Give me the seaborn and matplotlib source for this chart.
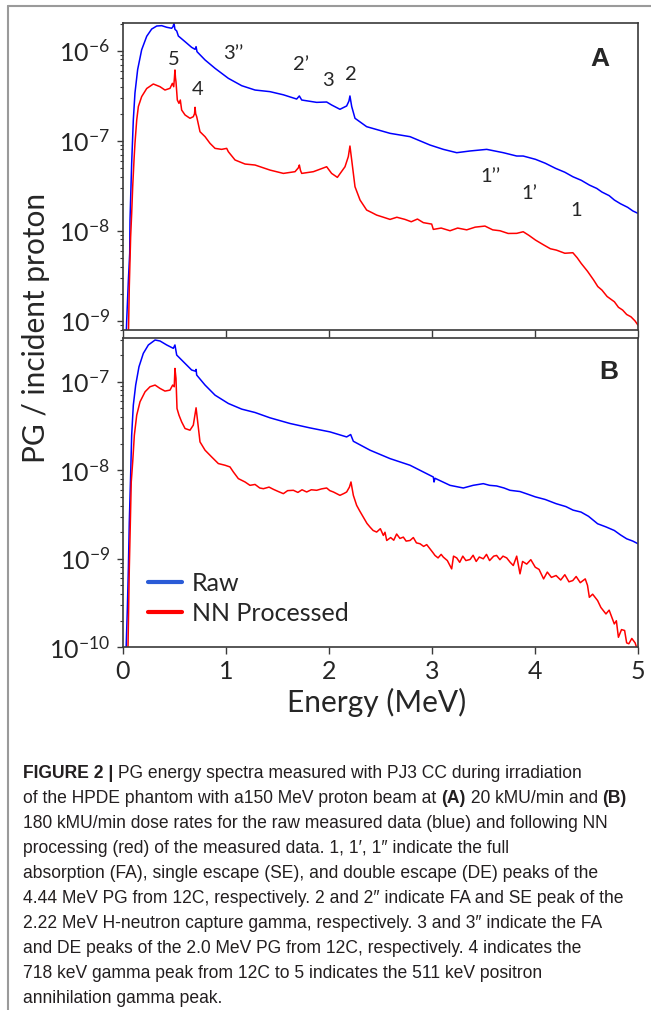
import numpy as np
import pandas as pd
import matplotlib
matplotlib.use("Agg")
import matplotlib.pyplot as plt
from matplotlib.lines import Line2D
import seaborn as sns

# values: energy (MeV) and log10(PG / incident proton)
# panel A, 20 kMU/min
a_raw_e = [0.030, 0.039, 0.055, 0.068, 0.071, 0.087, 0.103, 0.119, 0.145, 0.184, 0.233, 0.281, 0.330,
           0.378, 0.427, 0.475, 0.488, 0.498, 0.507, 0.524, 0.540, 0.605, 0.669, 0.702, 0.712, 0.721,
           0.799, 0.896, 1.025, 1.155, 1.284, 1.429, 1.559, 1.688, 1.714, 1.737, 1.882, 1.979, 2.027,
           2.108, 2.173, 2.195, 2.205, 2.222, 2.254, 2.367, 2.594, 2.788, 2.982, 3.111, 3.241, 3.370,
           3.532, 3.693, 3.823, 3.886, 4.006, 4.100, 4.200, 4.290, 4.368, 4.450, 4.529, 4.600, 4.650,
           4.720, 4.771, 4.830, 4.900, 4.950, 5.0]
a_raw_log = [-9.30, -8.99, -8.55, -8.25, -7.88, -7.25, -6.77, -6.47, -6.21, -5.99, -5.84, -5.76, -5.726,
             -5.722, -5.74, -5.751, -5.733, -5.696, -5.763, -5.781, -5.837, -5.90, -5.963, -5.985, -5.955, -6.011,
             -6.103, -6.196, -6.307, -6.389, -6.437, -6.455, -6.49, -6.537, -6.503, -6.548, -6.574, -6.57, -6.603,
             -6.651, -6.614, -6.56, -6.503, -6.62, -6.751, -6.844, -6.918, -6.955, -7.048, -7.096, -7.133, -7.114,
             -7.096, -7.133, -7.17, -7.17, -7.207, -7.25, -7.307, -7.35, -7.40, -7.44, -7.493, -7.53, -7.57,
             -7.61, -7.659, -7.70, -7.74, -7.78, -7.807]
a_nn_e = [0.055, 0.064, 0.077, 0.087, 0.097, 0.110, 0.119, 0.136, 0.152, 0.184, 0.233, 0.297, 0.362, 0.410,
          0.459, 0.482, 0.495, 0.502, 0.507, 0.512, 0.517, 0.530, 0.546, 0.559, 0.572, 0.605, 0.653, 0.685,
          0.697, 0.702, 0.708, 0.718, 0.750, 0.799, 0.847, 0.896, 0.960, 1.009, 1.025, 1.090, 1.187, 1.284,
          1.429, 1.559, 1.672, 1.705, 1.714, 1.725, 1.737, 1.850, 1.979, 2.027, 2.083, 2.157, 2.189, 2.205,
          2.222, 2.254, 2.303, 2.367, 2.420, 2.464, 2.530, 2.594, 2.660, 2.739, 2.800, 2.860, 2.917, 2.998,
          3.014, 3.090, 3.176, 3.250, 3.338, 3.420, 3.515, 3.590, 3.661, 3.740, 3.823, 3.886, 3.940, 4.006,
          4.087, 4.150, 4.208, 4.290, 4.368, 4.410, 4.449, 4.510, 4.570, 4.610, 4.650, 4.700, 4.771, 4.810,
          4.851, 4.890, 4.932, 4.970, 5.0]
a_nn_log = [-9.20, -8.62, -8.07, -7.81, -7.51, -7.21, -7.03, -6.77, -6.62, -6.51, -6.42, -6.37, -6.40, -6.437,
            -6.418, -6.363, -6.40, -6.30, -6.214, -6.30, -6.344, -6.548, -6.585, -6.548, -6.659, -6.714, -6.751,
            -6.733, -6.70, -6.629, -6.70, -6.733, -6.90, -6.955, -7.029, -7.085, -7.096, -7.085, -7.122, -7.214,
            -7.259, -7.27, -7.326, -7.363, -7.344, -7.30, -7.27, -7.33, -7.363, -7.344, -7.289, -7.363, -7.407,
            -7.289, -7.177, -7.059, -7.214, -7.511, -7.659, -7.77, -7.80, -7.826, -7.85, -7.874, -7.85, -7.874,
            -7.90, -7.87, -7.91, -7.926, -7.985, -7.97, -8.00, -7.97, -7.99, -7.96, -7.948, -7.99, -8.0,
            -8.03, -8.029, -8.011, -8.05, -8.104, -8.159, -8.20, -8.215, -8.25, -8.244, -8.30, -8.363, -8.45,
            -8.548, -8.62, -8.659, -8.73, -8.789, -8.85, -8.881, -8.93, -8.956, -9.00, -9.048]

# panel B, 180 kMU/min
b_raw_e = [0.031, 0.045, 0.055, 0.064, 0.077, 0.087, 0.103, 0.126, 0.158, 0.200, 0.249, 0.314, 0.362,
           0.427, 0.491, 0.507, 0.524, 0.572, 0.669, 0.705, 0.712, 0.718, 0.799, 0.896, 1.025, 1.155, 1.284,
           1.429, 1.623, 1.817, 2.011, 2.173, 2.212, 2.238, 2.400, 2.594, 2.788, 2.917, 3.014, 3.021, 3.030,
           3.176, 3.305, 3.400, 3.499, 3.560, 3.628, 3.700, 3.758, 3.855, 3.930, 4.003, 4.100, 4.205, 4.300,
           4.370, 4.447, 4.520, 4.608, 4.690, 4.770, 4.830, 4.890, 4.950, 5.0]
b_raw_log = [-10.10, -9.567, -9.114, -8.585, -8.057, -7.604, -7.264, -7.037, -6.83, -6.679, -6.584, -6.528,
             -6.539, -6.584, -6.622, -6.584, -6.698, -6.754, -6.867, -6.88, -6.86, -6.924, -7.037, -7.151, -7.245,
             -7.309, -7.347, -7.407, -7.471, -7.521, -7.566, -7.623, -7.596, -7.672, -7.773, -7.868, -7.943,
             -8.019, -8.076, -8.132, -8.09, -8.17, -8.20, -8.17, -8.151, -8.17, -8.177, -8.20, -8.226, -8.24,
             -8.27, -8.30, -8.33, -8.377, -8.41, -8.45, -8.472, -8.52, -8.604, -8.64, -8.68, -8.73, -8.774,
             -8.80, -8.83]
b_nn_e = [0.050, 0.055, 0.064, 0.074, 0.083, 0.097, 0.113, 0.136, 0.168, 0.217, 0.265, 0.314, 0.362, 0.410,
          0.459, 0.485, 0.500, 0.507, 0.517, 0.527, 0.546, 0.572, 0.605, 0.653, 0.685, 0.712, 0.728, 0.750,
          0.799, 0.863, 0.928, 0.993, 1.041, 1.074, 1.122, 1.187, 1.235, 1.284, 1.330, 1.365, 1.420, 1.462,
          1.510, 1.559, 1.600, 1.656, 1.700, 1.740, 1.785, 1.830, 1.882, 1.930, 1.979, 2.010, 2.044, 2.108,
          2.150, 2.173, 2.200, 2.215, 2.238, 2.270, 2.300, 2.335, 2.370, 2.400, 2.430, 2.464, 2.500, 2.529,
          2.545, 2.562, 2.600, 2.630, 2.658, 2.690, 2.723, 2.750, 2.788, 2.820, 2.850, 2.885, 2.920, 2.950,
          2.982, 3.010, 3.030, 3.060, 3.090, 3.111, 3.150, 3.192, 3.210, 3.241, 3.270, 3.300, 3.330, 3.370,
          3.400, 3.430, 3.460, 3.499, 3.530, 3.560, 3.600, 3.628, 3.660, 3.690, 3.726, 3.760, 3.790, 3.823,
          3.855, 3.880, 3.920, 3.960, 4.003, 4.040, 4.084, 4.120, 4.160, 4.205, 4.250, 4.290, 4.330, 4.367,
          4.400, 4.440, 4.488, 4.510, 4.528, 4.560, 4.608, 4.640, 4.689, 4.720, 4.770, 4.790, 4.810, 4.840,
          4.870, 4.890, 4.911, 4.940, 4.972, 5.0]
b_nn_log = [-10.10, -9.755, -9.114, -8.585, -8.132, -7.906, -7.604, -7.377, -7.226, -7.113, -7.056, -7.037,
            -7.075, -7.105, -7.094, -7.037, -7.056, -6.849, -6.962, -7.302, -7.377, -7.453, -7.528, -7.547,
            -7.49, -7.294, -7.453, -7.679, -7.773, -7.849, -7.924, -7.943, -7.962, -8.019, -8.094, -8.132,
            -8.17, -8.16, -8.20, -8.208, -8.19, -8.215, -8.24, -8.264, -8.23, -8.226, -8.25, -8.22, -8.245,
            -8.22, -8.226, -8.21, -8.20, -8.23, -8.245, -8.283, -8.26, -8.245, -8.19, -8.132, -8.283, -8.396,
            -8.46, -8.529, -8.60, -8.642, -8.68, -8.698, -8.66, -8.736, -8.70, -8.793, -8.76, -8.79, -8.72,
            -8.77, -8.755, -8.80, -8.793, -8.76, -8.82, -8.83, -8.86, -8.84, -8.887, -8.93, -8.962, -8.99,
            -8.95, -8.981, -9.02, -9.114, -8.97, -8.99, -9.04, -8.97, -9.02, -9.008, -8.96, -9.03, -8.98,
            -9.00, -8.95, -9.02, -8.97, -8.962, -9.01, -8.97, -8.99, -9.04, -9.076, -8.97, -9.17, -9.03,
            -9.06, -9.01, -9.095, -9.12, -9.227, -9.15, -9.21, -9.189, -9.24, -9.18, -9.26, -9.246, -9.20,
            -9.27, -9.227, -9.30, -9.435, -9.40, -9.472, -9.55, -9.623, -9.58, -9.736, -9.70, -9.887, -9.80,
            -9.81, -9.95, -9.96, -9.90, -9.95, -10.05]

# peak labels of panel A: text, energy, log10 value
peak_text = ["5", "4", "3\u2019\u2019", "2\u2019", "3", "2", "1\u2019\u2019", "1\u2019", "1"]
peak_e = [0.499, 0.728, 1.07, 1.734, 1.995, 2.216, 3.564, 3.946, 4.40]
peak_log = [-6.096, -6.429, -6.03, -6.159, -6.326, -6.27, -7.40, -7.585, -7.77]

caption = [
    [("FIGURE 2 | ", "bold"), ("PG energy spectra measured with PJ3 CC during irradiation", "normal")],
    [("of the HPDE phantom with a150 MeV proton beam at ", "normal"), ("(A)", "bold"),
     (" 20 kMU/min and ", "normal"), ("(B)", "bold")],
    [("180 kMU/min dose rates for the raw measured data (blue) and following NN", "normal")],
    [("processing (red) of the measured data. 1, 1\u2032, 1\u2033 indicate the full", "normal")],
    [("absorption (FA), single escape (SE), and double escape (DE) peaks of the", "normal")],
    [("4.44 MeV PG from 12C, respectively. 2 and 2\u2033 indicate FA and SE peak of the", "normal")],
    [("2.22 MeV H-neutron capture gamma, respectively. 3 and 3\u2033 indicate the FA", "normal")],
    [("and DE peaks of the 2.0 MeV PG from 12C, respectively. 4 indicates the", "normal")],
    [("718 keV gamma peak from 12C to 5 indicates the 511 keV positron", "normal")],
    [("annihilation gamma peak.", "normal")],
]

sns.set_style("ticks")
plt.rcParams['font.family'] = ['Lato', 'DejaVu Sans']
plt.rcParams['mathtext.fontset'] = 'custom'
plt.rcParams['mathtext.rm'] = 'Lato'
plt.rcParams['mathtext.it'] = 'Lato:italic'
plt.rcParams['mathtext.bf'] = 'Lato:bold'

W, H = 651, 1010
fig = plt.figure(figsize=(W / 100, H / 100), dpi=100)
left, right = 122.7 / W, 638 / W
axA = fig.add_axes([left, 1 - 330 / H, right - left, 307 / H])
axB = fig.add_axes([left, 1 - 647.3 / H, right - left, 309 / H])

colors = {"Raw": "#0000ff", "NN Processed": "#ff0000"}


def spectra(e_raw, l_raw, e_nn, l_nn):
    d1 = pd.DataFrame({"energy": e_raw, "pg": 10.0 ** np.array(l_raw), "series": "Raw"})
    d2 = pd.DataFrame({"energy": e_nn, "pg": 10.0 ** np.array(l_nn), "series": "NN Processed"})
    return pd.concat([d1, d2], ignore_index=True)


dfA = spectra(a_raw_e, a_raw_log, a_nn_e, a_nn_log)
dfB = spectra(b_raw_e, b_raw_log, b_nn_e, b_nn_log)

for ax, df, ylim in [(axA, dfA, (7.9e-10, 2.03e-6)), (axB, dfB, (1.0e-10, 3.1e-7))]:
    sns.lineplot(data=df, x="energy", y="pg", hue="series", palette=colors, estimator=None,
                 sort=False, legend=False, lw=1.1, ax=ax)
    ax.set_yscale("log")
    ax.set_xlim(0, 5)
    ax.set_ylim(*ylim)
    ax.set_xticks([0, 1, 2, 3, 4, 5])
    ax.set_ylabel("")
    ax.set_xlabel("")
    for s in ax.spines.values():
        s.set_visible(True)
        s.set_color("#3a3a3a")
        s.set_linewidth(1.2)
    ax.tick_params(axis="both", which="major", direction="out", length=4, width=1, color="#3a3a3a",
                   labelsize=18)
    ax.tick_params(axis="y", which="major", pad=5)
    ax.tick_params(axis="y", which="minor", direction="out", length=2.5, width=0.8, color="#3a3a3a")
    ax.tick_params(axis="x", which="major", length=5, pad=4)

axA.tick_params(axis="x", labelbottom=False)

for t, e, lg in zip(peak_text, peak_e, peak_log):
    axA.text(e, 10.0 ** lg, t, ha="center", va="center", fontsize=14.5)

axA.text(0.926, 0.883, "A", transform=axA.transAxes, ha="center", va="center", fontsize=19,
         fontweight="bold", family=["Liberation Sans", "DejaVu Sans"])
axB.text(0.944, 0.892, "B", transform=axB.transAxes, ha="center", va="center", fontsize=19,
         fontweight="bold", family=["Liberation Sans", "DejaVu Sans"])

handles = [Line2D([], [], color="#2a5bd7", lw=3), Line2D([], [], color="#ff0000", lw=3)]
axB.legend(handles, ["Raw", "NN Processed"], loc="lower left", bbox_to_anchor=(0.049, 0.072),
           frameon=False, fontsize=18, handlelength=1.35, handletextpad=0.42, labelspacing=0.3,
           borderpad=0, borderaxespad=0)

axB.set_xlabel("Energy (MeV)", fontsize=21.5)
axB.xaxis.set_label_coords((377 - 122.7) / 515.3, (647.3 - 702) / 309)
axB.xaxis.label.set_va("center")
fig.text(36 / W, 1 - 328 / H, "PG / incident proton", rotation=90, ha="center", va="center", fontsize=21.5)

# grey frame lines of the page
fig.add_artist(Line2D([8 / W, 1], [1 - 6 / H, 1 - 6 / H], transform=fig.transFigure, color="#9a9a9a", lw=1.5))
fig.add_artist(Line2D([8 / W, 8 / W], [1 - 6 / H, 0], transform=fig.transFigure, color="#9a9a9a", lw=1.5))

# caption, one line at a time, bold pieces placed after measuring
renderer = fig.canvas.get_renderer()
cap_font = ["Liberation Sans", "DejaVu Sans"]


def draw_caption(size):
    texts, widths = [], []
    for i, line in enumerate(caption):
        x = 23 / W
        y = 1 - (778 + 25 * i) / H
        for s, weight in line:
            t = fig.text(x, y, s, ha="left", va="baseline", fontsize=size, fontweight=weight,
                         family=cap_font, color="#231f20")
            texts.append(t)
            x += t.get_window_extent(renderer).width / W
        widths.append(x * W - 23)
    return texts, widths


texts, widths = draw_caption(13.0)
fit = 13.0 * 604 / widths[1]
for t in texts:
    t.remove()
draw_caption(fit)

fig.savefig("out.png", dpi=100)
